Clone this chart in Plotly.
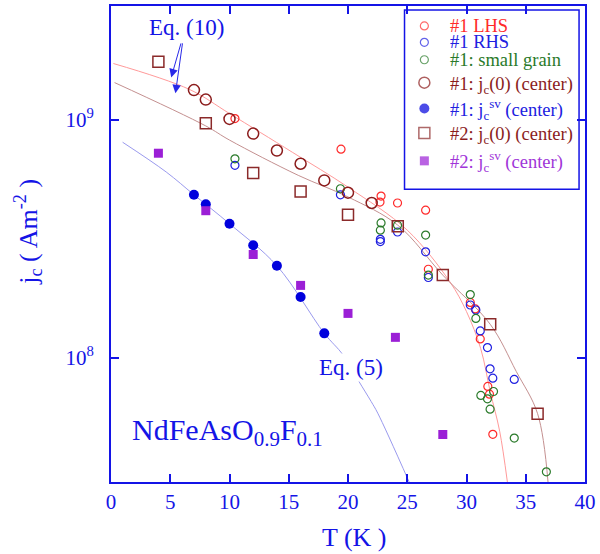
import numpy as np
import plotly.graph_objects as go

# ---------------- data ----------------
# #1 LHS (red small open circles)
lhs_T = [10.46, 19.41, 22.79, 22.70, 24.18, 26.55, 26.78, 30.32, 30.74, 31.16, 31.80, 31.94, 32.22]
lhs_j = [1.01e9, 7.51e8, 4.77e8, 4.50e8, 4.46e8, 4.16e8, 2.35e8, 1.705e8, 1.60e8, 1.198e8, 7.56e7, 7.02e7, 4.76e7]

# #1 RHS (blue small open circles)
rhs_T = [10.46, 19.36, 22.73, 22.73, 24.18, 26.55, 26.78, 30.32, 30.79, 31.16, 31.77, 31.99, 32.22, 34.03]
rhs_j = [6.42e8, 4.83e8, 3.14e8, 3.07e8, 3.37e8, 2.78e8, 2.17e8, 1.663e8, 1.584e8, 1.294e8, 1.101e8, 8.97e7, 8.19e7, 8.09e7]

# #1 small grain (green small open circles)
sg_T = [10.46, 19.36, 22.79, 22.73, 24.18, 26.55, 26.78, 30.32, 30.79, 31.21, 32.28, 31.77, 31.99, 34.03, 36.74]
sg_j = [6.84e8, 5.12e8, 3.68e8, 3.43e8, 3.60e8, 3.27e8, 2.22e8, 1.84e8, 1.46e8, 6.93e7, 7.20e7, 6.71e7, 6.07e7, 4.59e7, 3.31e7]

# #1 jc(0) (center) - dark red big open circles
c1_T = [7, 8, 10, 12, 14, 16, 18, 20, 22]
c1_j = [1.33e9, 1.213e9, 1.006e9, 8.73e8, 7.41e8, 6.52e8, 5.55e8, 4.93e8, 4.46e8]

# #1 jc^sv (center) - blue filled circles
sv1_T = [7, 8, 10, 12, 14, 16, 18]
sv1_j = [4.83e8, 4.41e8, 3.65e8, 2.965e8, 2.43e8, 1.796e8, 1.264e8]

# #2 jc(0) (center) - brown open squares
c2_T = [4, 8, 12, 16, 20, 24.2, 28, 32, 36]
c2_j = [1.75e9, 9.65e8, 5.96e8, 4.99e8, 3.98e8, 3.56e8, 2.22e8, 1.379e8, 5.81e7]

# #2 jc^sv (center) - purple filled squares
sv2_T = [4, 8, 12, 16, 20, 24, 28]
sv2_j = [7.22e8, 4.14e8, 2.71e8, 2.01e8, 1.533e8, 1.216e8, 4.75e7]

# Eq. (10) fit curves
fitA_T = [0.2, 6.6, 10.0, 15.3, 20.0, 25.0, 28.6, 30.0, 31.2, 32.0, 32.8, 33.45]
fitA_j = [1.72e9, 1.34e9, 1.06e9, 7.29e8, 5.2e8, 3.43e8, 2.08e8, 1.56e8, 1.09e8, 7.2e7, 4.9e7, 3.0e7]

fitB_T = [0.3, 8.0, 10.0, 15.8, 20.0, 24.2, 28.0, 32.0, 34.2, 36.0, 36.88]
fitB_j = [1.43e9, 9.4e8, 8.2e8, 5.83e8, 4.73e8, 3.6e8, 2.22e8, 1.38e8, 8.74e7, 5.81e7, 3.0e7]

# Eq. (5) fit curve
fitC_T = [0.98, 4.66, 7.0, 10.0, 14.0, 18.0, 19.58, 20.92, 21.95, 22.51, 25.16]
fitC_j = [8.03e8, 6.02e8, 4.83e8, 3.65e8, 2.43e8, 1.264e8, 1.026e8, 7.94e7, 6.54e7, 5.84e7, 3.0e7]

x_ticks = [0, 5, 10, 15, 20, 25, 30, 35, 40]
y_tickvals = [1e8, 1e9]
y_ticktext = ["10<sup>8</sup>", "10<sup>9</sup>"]

legend_labels = ["#1 LHS", "#1 RHS", "#1: small grain",
                 "#1: j<sub>c</sub>(0) (center)", "#1: j<sub>c</sub><sup>sv</sup> (center)",
                 "#2: j<sub>c</sub>(0) (center)", "#2: j<sub>c</sub><sup>sv</sup> (center)"]

# ---------------- styling ----------------
AX = "#1414e6"
FONT = "Liberation Serif"
RED = "#ff2a2a"
BLUE_O = "#2020e0"
GREEN = "#2a7a2a"
DKRED = "#8b1c1c"
BRN = "#8b2a2a"
BLUE_F = "#0000dd"
PURP = "#9b1fd6"
PURP_T = "#a035d8"

# plot-area pixel geometry (for positioning decorations)
L, R, T, B = 111, 589, 4, 482


def px(xp):
    return (xp - L) / (R - L)


def py(yp):
    return (B - yp) / (B - T)


fig = go.Figure()

# fit lines
fig.add_trace(go.Scatter(x=fitA_T, y=fitA_j, mode="lines", line=dict(color="#ff9a9a", width=1, shape="spline"),
                         showlegend=False, hoverinfo="skip"))
fig.add_trace(go.Scatter(x=fitB_T, y=fitB_j, mode="lines", line=dict(color="#c49090", width=1, shape="spline"),
                         showlegend=False, hoverinfo="skip"))
fig.add_trace(go.Scatter(x=fitC_T, y=fitC_j, mode="lines", line=dict(color="#9a9aee", width=1, shape="spline"),
                         showlegend=False, hoverinfo="skip"))

styles = [
    dict(symbol="circle-open", size=8, color=RED, line=dict(width=1.2, color=RED)),
    dict(symbol="circle-open", size=8, color=BLUE_O, line=dict(width=1.2, color=BLUE_O)),
    dict(symbol="circle-open", size=8, color=GREEN, line=dict(width=1.2, color=GREEN)),
    dict(symbol="circle-open", size=11, color=DKRED, line=dict(width=1.5, color=DKRED)),
    dict(symbol="circle", size=10, color=BLUE_F),
    dict(symbol="square-open", size=11, color=BRN, line=dict(width=1.5, color=BRN)),
    dict(symbol="square", size=9, color=PURP),
]
series = [(lhs_T, lhs_j), (rhs_T, rhs_j), (sg_T, sg_j), (c1_T, c1_j), (sv1_T, sv1_j), (c2_T, c2_j), (sv2_T, sv2_j)]
for (xs, ys), st, nm in zip(series, styles, legend_labels):
    fig.add_trace(go.Scatter(x=xs, y=ys, mode="markers", name=nm, marker=st, showlegend=False))

# ---- hand-drawn legend (box, markers, coloured labels) ----
leg_rows = [24, 40.5, 58, 81, 107, 131.5, 159.5]
leg_text_y = [24, 40.5, 58, 84, 107.5, 134.5, 160]
leg_text_col = [RED, BLUE_O, GREEN, DKRED, BLUE_O, DKRED, PURP_T]
fig.add_trace(go.Scatter(
    x=[px(427)] * 7, y=[py(v) for v in leg_rows], xaxis="x2", yaxis="y2", mode="markers",
    marker=dict(symbol=[s["symbol"] for s in styles], size=[s["size"] for s in styles],
                color=[s["color"] for s in styles],
                line=dict(width=[s.get("line", {}).get("width", 0) for s in styles],
                          color=[s["color"] for s in styles])),
    showlegend=False, hoverinfo="skip"))

axis_common = dict(showline=True, linecolor=AX, linewidth=2, mirror="ticks", ticks="inside",
                   tickcolor=AX, tickwidth=1.5, ticklen=8, showgrid=False, zeroline=False,
                   tickfont=dict(family=FONT, size=21, color=AX))

fig.update_xaxes(range=[0, 40], tickvals=x_ticks, **axis_common)
fig.update_yaxes(type="log", range=[np.log10(3e7), np.log10(3e9)], tickvals=y_tickvals, ticktext=y_ticktext,
                 ticklabelstandoff=11, **axis_common)

annotations = [
    dict(text="T (K )", xref="paper", yref="paper", x=0.5146, y=-0.117, showarrow=False,
         font=dict(family=FONT, size=26, color=AX), xanchor="center", yanchor="middle"),
    dict(text="j<sub>c</sub> ( Am<sup>-2</sup> )", xref="paper", yref="paper", x=-0.1757, y=0.525,
         showarrow=False, textangle=-90, font=dict(family=FONT, size=26, color=AX),
         xanchor="center", yanchor="middle"),
    dict(text="NdFeAsO<sub>0.9</sub>F<sub>0.1</sub>", x=1.63, y=np.log10(4.85e7), xref="x", yref="y",
         showarrow=False, xanchor="left", yanchor="middle", font=dict(family=FONT, size=30, color=AX)),
    dict(text="Eq. (5)", x=20.25, y=np.log10(9.08e7), xref="x", yref="y", showarrow=False,
         xanchor="center", yanchor="middle", bgcolor="white", font=dict(family=FONT, size=23, color=AX)),
    dict(text="Eq. (10)", x=6.4, y=np.log10(2.436e9), xref="x", yref="y", showarrow=False,
         xanchor="center", yanchor="middle", font=dict(family=FONT, size=23, color=AX)),
    dict(text="", x=5.08, y=np.log10(1.503e9), ax=5.94, ay=np.log10(2.12e9), xref="x", yref="y",
         axref="x", ayref="y", showarrow=True, arrowhead=2, arrowsize=1.7, arrowwidth=1, arrowcolor="#2828e8"),
    dict(text="", x=5.44, y=np.log10(1.29e9), ax=6.05, ay=np.log10(2.12e9), xref="x", yref="y",
         axref="x", ayref="y", showarrow=True, arrowhead=2, arrowsize=1.7, arrowwidth=1, arrowcolor="#2828e8"),
]
for lab, ty, col in zip(legend_labels, leg_text_y, leg_text_col):
    annotations.append(dict(text="<span style='color:%s'>%s</span>" % (col, lab), xref="paper", yref="paper",
                            x=px(452), y=py(ty), xanchor="left", yanchor="middle", showarrow=False,
                            borderpad=0, font=dict(family=FONT, size=18.5, color=col)))

shapes = [dict(type="rect", xref="paper", yref="paper", x0=px(407), x1=px(583), y0=py(188), y1=py(8),
               line=dict(color=AX, width=1.5), fillcolor="rgba(0,0,0,0)", layer="above")]

fig.update_layout(
    width=600, height=554,
    margin=dict(l=L, r=600 - R, t=T, b=554 - B),
    paper_bgcolor="white", plot_bgcolor="white",
    font=dict(family=FONT, size=18, color=AX),
    showlegend=False,
    xaxis2=dict(overlaying="x", range=[0, 1], visible=False, anchor="y2"),
    yaxis2=dict(overlaying="y", range=[0, 1], visible=False, anchor="x2"),
    annotations=annotations,
    shapes=shapes,
)

fig.write_html("out.html")
